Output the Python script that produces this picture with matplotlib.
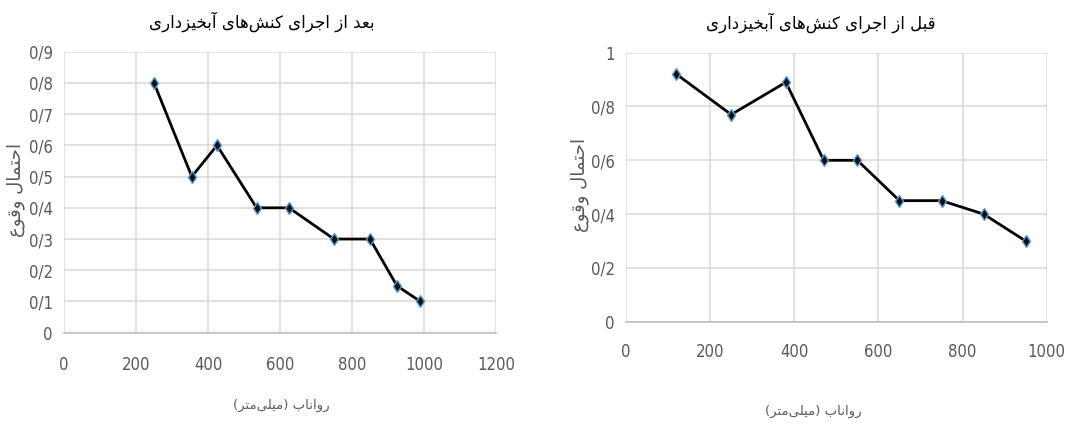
import matplotlib
matplotlib.use("Agg")
import matplotlib.pyplot as plt
from matplotlib import font_manager, ft2font
from matplotlib.ticker import FixedLocator, FuncFormatter

# ---- data -------------------------------------------------------------
after_runoff = [250, 355, 425, 535, 625, 750, 850, 925, 990]
after_prob = [0.80, 0.50, 0.60, 0.40, 0.40, 0.30, 0.30, 0.15, 0.10]

before_runoff = [120, 250, 380, 470, 550, 650, 750, 850, 950]
before_prob = [0.92, 0.77, 0.89, 0.60, 0.60, 0.45, 0.45, 0.40, 0.30]

after_xticks = [0, 200, 400, 600, 800, 1000, 1200]
after_yticks = [0, 0.1, 0.2, 0.3, 0.4, 0.5, 0.6, 0.7, 0.8, 0.9]
before_xticks = [0, 200, 400, 600, 800, 1000]
before_yticks = [0, 0.2, 0.4, 0.6, 0.8, 1.0]

title_after = "بعد از اجرای کنش‌های آبخیزداری"
title_before = "قبل از اجرای کنش‌های آبخیزداری"
ylabel_text = "احتمال وقوع"
xlabel_text = "رواناب (میلی‌متر)"

# ---- minimal Persian shaping (contextual forms + visual order) --------
ARABIC_FONT = "DejaVu Sans"
_cmap = ft2font.FT2Font(font_manager.findfont(ARABIC_FONT)).get_charmap()


def _pick(preferred, fallback):
    return tuple(p if (p is None or ord(p) in _cmap) else f
                 for p, f in zip(preferred, fallback))


# isolated, final, initial, medial
FORMS = {
    "\u0627": ("\uFE8D", "\uFE8E", None, None),
    "\u0622": ("\uFE81", "\uFE82", None, None),
    "\u062F": ("\uFEA9", "\uFEAA", None, None),
    "\u0631": ("\uFEAD", "\uFEAE", None, None),
    "\u0632": ("\uFEAF", "\uFEB0", None, None),
    "\u0648": ("\uFEED", "\uFEEE", None, None),
    "\u0628": ("\uFE8F", "\uFE90", "\uFE91", "\uFE92"),
    "\u062A": ("\uFE95", "\uFE96", "\uFE97", "\uFE98"),
    "\u062C": ("\uFE9D", "\uFE9E", "\uFE9F", "\uFEA0"),
    "\u062D": ("\uFEA1", "\uFEA2", "\uFEA3", "\uFEA4"),
    "\u062E": ("\uFEA5", "\uFEA6", "\uFEA7", "\uFEA8"),
    "\u0634": ("\uFEB5", "\uFEB6", "\uFEB7", "\uFEB8"),
    "\u0639": ("\uFEC9", "\uFECA", "\uFECB", "\uFECC"),
    "\u0642": ("\uFED5", "\uFED6", "\uFED7", "\uFED8"),
    "\u0644": ("\uFEDD", "\uFEDE", "\uFEDF", "\uFEE0"),
    "\u0645": ("\uFEE1", "\uFEE2", "\uFEE3", "\uFEE4"),
    "\u0646": ("\uFEE5", "\uFEE6", "\uFEE7", "\uFEE8"),
    "\u0647": ("\uFEE9", "\uFEEA", "\uFEEB", "\uFEEC"),
    "\u06CC": _pick(("\uFBFC", "\uFBFD", "\uFBFE", "\uFBFF"),
                    ("\uFEEF", "\uFEF0", "\uFEF3", "\uFEF4")),
    "\u06A9": _pick(("\uFB8E", "\uFB8F", "\uFB90", "\uFB91"),
                    ("\uFED9", "\uFEDA", "\uFEDB", "\uFEDC")),
}
MIRROR = {"(": ")", ")": "("}


def fa(text):
    out = []
    for i, c in enumerate(text):
        if c not in FORMS:
            if c != "\u200C":
                out.append(c)
            continue
        prev = text[i - 1] if i > 0 else None
        nxt = text[i + 1] if i + 1 < len(text) else None
        iso, fin, ini, med = FORMS[c]
        join_prev = prev in FORMS and FORMS[prev][2] is not None
        join_next = ini is not None and nxt in FORMS
        if join_prev and join_next:
            out.append(med)
        elif join_prev:
            out.append(fin)
        elif join_next:
            out.append(ini)
        else:
            out.append(iso)
    return "".join(MIRROR.get(c, c) for c in reversed(out))


# ---- styling ----------------------------------------------------------
TICK_COLOR = "#595959"
GRID_COLOR = "#d9d9d9"
LINE_COLOR = "black"
MARKER_EDGE = "#5b9bd5"


def pfmt(v, _pos=None):
    s = f"{round(v, 2):g}"
    return s.replace(".", "/")


def style_axes(ax, xticks, yticks, xpad, ypad):
    ax.set_xlim(xticks[0], xticks[-1])
    ax.set_ylim(yticks[0], yticks[-1])
    ax.xaxis.set_major_locator(FixedLocator(xticks))
    ax.yaxis.set_major_locator(FixedLocator(yticks))
    ax.yaxis.set_major_formatter(FuncFormatter(pfmt))
    ax.grid(True, color=GRID_COLOR, linewidth=1.1)
    ax.set_axisbelow(True)
    for side in ("top", "right", "left"):
        ax.spines[side].set_visible(False)
    ax.spines["bottom"].set_color("#bfbfbf")
    ax.spines["bottom"].set_linewidth(1.2)
    ax.tick_params(length=0, colors=TICK_COLOR, labelsize=12)
    ax.tick_params(axis="x", pad=xpad)
    ax.tick_params(axis="y", pad=ypad)
    for lab in ax.get_xticklabels() + ax.get_yticklabels():
        lab.set_fontfamily("DejaVu Sans")
        lab.set_fontstretch("condensed")
        lab.set_fontweight("light")


def draw_series(ax, x, y):
    ax.plot(x, y, color=LINE_COLOR, linewidth=2.0, marker="d",
            markersize=6.5, markerfacecolor="#111111",
            markeredgecolor=MARKER_EDGE, markeredgewidth=1.0, zorder=3)


W, H = 1083, 425
fig = plt.figure(figsize=(W / 100, H / 100), dpi=100)

ax_after = fig.add_axes([64 / W, 1 - 332.7 / H, 432 / W, 281 / H])
ax_before = fig.add_axes([626 / W, 1 - 321.7 / H, 420.7 / W, 269 / H])

draw_series(ax_after, after_runoff, after_prob)
draw_series(ax_before, before_runoff, before_prob)

style_axes(ax_after, after_xticks, after_yticks, xpad=17, ypad=8)
style_axes(ax_before, before_xticks, before_yticks, xpad=15, ypad=8)

title_kw = dict(family=ARABIC_FONT, fontsize=12, color="black",
                ha="center", va="center")
fig.text(262 / W, 1 - 22 / H, fa(title_after), **title_kw)
fig.text(821 / W, 1 - 23 / H, fa(title_before), **title_kw)

xlabel_kw = dict(family=ARABIC_FONT, fontsize=9.5, color=TICK_COLOR,
                 ha="center", va="center")
fig.text(281 / W, 1 - 405 / H, fa(xlabel_text), **xlabel_kw)
fig.text(813 / W, 1 - 411 / H, fa(xlabel_text), **xlabel_kw)

ylabel_kw = dict(family=ARABIC_FONT, fontsize=13, color=TICK_COLOR,
                 ha="center", va="center", rotation=90)
fig.text(16 / W, 1 - 190 / H, fa(ylabel_text), **ylabel_kw)
fig.text(580 / W, 1 - 185 / H, fa(ylabel_text), **ylabel_kw)

fig.savefig("out.png", dpi=100, facecolor="white")
